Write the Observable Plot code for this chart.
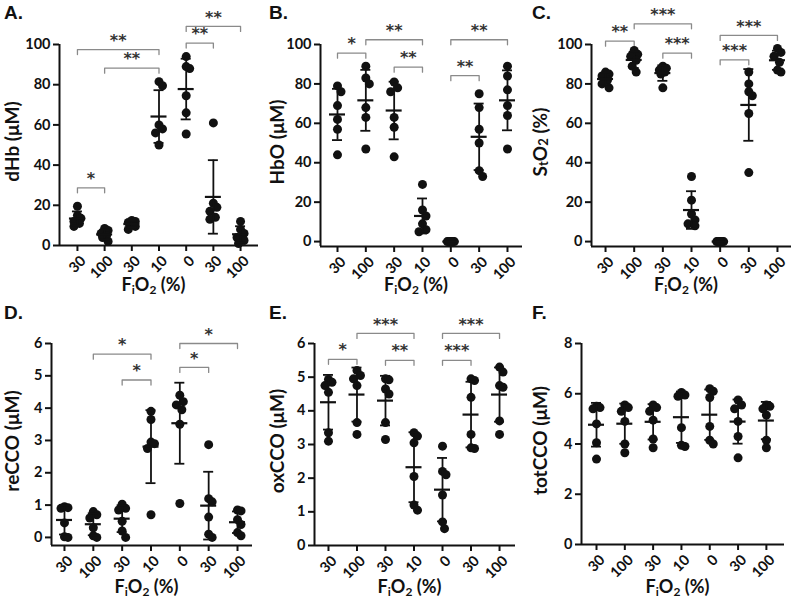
<!DOCTYPE html>
<html><head><meta charset="utf-8">
<script src="https://cdn.jsdelivr.net/npm/d3@7"></script>
<script src="https://cdn.jsdelivr.net/npm/@observablehq/plot@0.6"></script>
<style>
body{margin:0;background:#fff;}
#fig{position:relative;width:793px;height:600px;overflow:hidden;background:#fff;}
.panel{position:absolute;}
.panel g[aria-label^="y-axis"] text, .panel g[aria-label^="x-axis"] text{font-family:Lato,'Open Sans',sans-serif;font-size:14.5px;font-weight:bold;}
</style></head><body><div id="fig"></div>
<script>
// FiO2 groups (tick labels)
const fio2 = ["30","100","30","10","0","30","100"];

// individual animals per group
const dHb = [[19.5,15,13.5,12,11,9.5],[8.5,7.5,6,5,4,2],[12.5,12,11.5,10.5,9.5,8],[81.5,79.5,60,58,56,50],[94,89,88,74.5,66,55.5],[61,21,19,17,14,13],[12,8,6,4,2.5,1]];
const HbO = [[79,76,69,62,57,44],[89,83,80,68,63,47],[81,78,76,63,58,43],[29,16,13,9,6,5],[0,0,0,0,0,0],[75,68,57,50,36,33],[89,84,77,69,64,47]];
const StO2 = [[86,85,84,82,80,78],[97,95,94,92,89,86],[89,88,87,86,85,78],[33,21,14,11,9,8],[0,0,0,0,0,0],[86,80,76,74,65,35],[98,96,94,91,87,86]];
const reCCO = [[0.95,0.92,0.9,0.45,0.02,0],[0.8,0.7,0.6,0.3,0.05,0],[1.03,0.9,0.85,0.5,0.2,0],[3.9,3.65,2.95,2.9,2.75,0.7],[4.4,4.2,4.1,3.95,3.5,1.05],[2.87,1.2,1.1,0.63,0.1,0],[0.85,0.82,0.55,0.4,0.15,0.05]];
const oxCCO = [[4.93,4.85,4.75,4.55,3.35,3.1],[5.2,5.05,4.95,4.75,3.65,3.3],[4.95,4.92,4.65,4.5,3.65,3.15],[3.35,3.25,3.05,2.05,1.2,1.05],[2.95,2.2,2.1,1.5,0.7,0.5],[4.95,4.9,4.4,3.3,2.9,2.88],[5.3,5.15,4.75,4.7,3.7,3.3]];
const totCCO = [[5.5,5.45,5.4,4.8,4.05,3.4],[5.55,5.45,5.3,4.9,4.0,3.65],[5.55,5.45,5.3,4.95,4.2,3.85],[6.05,5.95,5.9,4.65,3.95,3.9],[6.2,6.1,5.85,4.7,4.15,4.0],[5.75,5.55,5.4,4.9,4.3,3.45],[5.55,5.5,5.4,5.15,4.15,3.85]];

// significance brackets: group index from/to, level (data units), label
const sigA = [{from:0,to:1,y:28.7,label:"*"},{from:0,to:3,y:97.5,label:"**"},{from:1,to:3,y:88.2,label:"**"},{from:4,to:5,y:100.7,label:"**"},{from:4,to:6,y:109,label:"**"}];
const sigB = [{from:0,to:1,y:95.6,label:"*"},{from:1,to:3,y:102.4,label:"**"},{from:2,to:3,y:88.5,label:"**"},{from:4,to:5,y:84.2,label:"**"},{from:4,to:6,y:102.4,label:"**"}];
const sigC = [{from:0,to:1,y:101.7,label:"**"},{from:1,to:3,y:110.5,label:"***"},{from:2,to:3,y:95.6,label:"***"},{from:4,to:5,y:92.2,label:"***"},{from:4,to:6,y:104.6,label:"***"}];
const sigD = [{from:1,to:3,y:5.67,label:"*"},{from:2,to:3,y:4.87,label:"*"},{from:4,to:5,y:5.26,label:"*"},{from:4,to:6,y:6.0,label:"*"}];
const sigE = [{from:0,to:1,y:5.53,label:"*"},{from:1,to:3,y:6.3,label:"***"},{from:2,to:3,y:5.5,label:"**"},{from:4,to:5,y:5.5,label:"***"},{from:4,to:6,y:6.3,label:"***"}];
const sigF = [];

// axis ticks
const ticksPct = [0,20,40,60,80,100];
const ticks6 = [0,1,2,3,4,5,6];
const ticks8 = [0,2,4,6,8];

// titles ("_x" = subscript x)
const yTitles = ["dHb (μM)","HbO (μM)","S_tO_2 (%)","reCCO (μM)","oxCCO (μM)","totCCO (μM)"];
const xTitle = "F_iO_2 (%)";
const letters = ["A.","B.","C.","D.","E.","F."];

const FONT = "Lato, 'Open Sans', sans-serif";

const panels = [
  {values:dHb, sig:sigA, yDom:[0,100], ticks:ticksPct, left:0, top:0, ml:59, mr:7, mt:44, mb:55, pl:0.66, pr:0.66},
  {values:HbO, sig:sigB, yDom:[-2.5,100], ticks:ticksPct, left:265, top:0, ml:55, mr:8, mt:44, mb:54, pl:0.6, pr:0.53},
  {values:StO2, sig:sigC, yDom:[-2.5,100], ticks:ticksPct, left:528, top:0, ml:63, mr:2, mt:44, mb:54, pl:0.49, pr:0.49},
  {values:reCCO, sig:sigD, yDom:[-0.25,6], ticks:ticks6, left:0, top:300, ml:51, mr:13, mt:43, mb:55, pl:0.45, pr:0.52},
  {values:oxCCO, sig:sigE, yDom:[0,6], ticks:ticks6, left:265, top:300, ml:49, mr:15, mt:43, mb:55, pl:0.49, pr:0.56},
  {values:totCCO, sig:sigF, yDom:[0,8], ticks:ticks8, left:528, top:300, ml:53, mr:9, mt:43, mb:56, pl:0.53, pr:0.64}
];

function addRich(sel, str, subSize, shift){
  const parts = str.split(/(_.)/).filter(s=>s.length);
  let sub=false;
  parts.forEach(s=>{
    if(s[0]==="_"){
      sel.append("tspan").attr("dy", sub ? 0 : shift).attr("font-size", subSize).text(s[1]);
      sub=true;
    } else {
      sel.append("tspan").attr("dy", sub ? -shift : 0).text(s);
      sub=false;
    }
  });
}

const fig = document.getElementById("fig");
panels.forEach((p,k)=>{
  const W=265,H=300;
  const plotW = W-p.ml-p.mr, plotH = H-p.mt-p.mb;
  const xDom = [-p.pl, fio2.length-1+p.pr];
  const pxX = plotW/(xDom[1]-xDom[0]);
  const pxY = plotH/(p.yDom[1]-p.yDom[0]);
  // spread overlapping dots sideways (scatter dot plot)
  const pts=[];
  p.values.forEach((vals,g)=>{
    const placed=[];
    [...vals].sort((a,b)=>b-a).forEach(v=>{
      const cands=[0,2,-2,3.5,-3.5];
      let best=0,bestD=-1;
      for(const c of cands){
        let md=Infinity;
        for(const q of placed) md=Math.min(md, Math.hypot(c-q.o,(v-q.v)*pxY));
        if(md>=7){best=c;break;}
        if(md>bestD){bestD=md;best=c;}
      }
      placed.push({v,o:best});
      pts.push({x:g+best/pxX, y:v});
    });
  });
  const stats = p.values.map((vals,g)=>({g, mean:d3.mean(vals), sd:d3.deviation(vals)}));
  const mw=8/pxX, cw=5/pxX, drop=5/pxY;
  const br = p.sig.flatMap((b,i)=>[{i,x:b.from,y:b.y-drop},{i,x:b.from,y:b.y},{i,x:b.to,y:b.y},{i,x:b.to,y:b.y-drop}]);
  const ink="#111";
  const svg = Plot.plot({
    width:W, height:H,
    marginLeft:p.ml, marginRight:p.mr, marginTop:p.mt, marginBottom:p.mb,
    style:{fontFamily:FONT, fontWeight:"bold", color:ink, background:"transparent", overflow:"visible"},
    x:{domain:xDom, ticks:d3.range(fio2.length), tickFormat:i=>fio2[i], tickRotate:-45, tickSize:6, tickPadding:3, label:null},
    y:{domain:p.yDom, ticks:p.ticks, tickFormat:d=>String(d), tickSize:6, tickPadding:3, label:null},
    marks:[
      Plot.ruleY([p.yDom[0]], {stroke:ink, strokeWidth:2}),
      Plot.ruleX([xDom[0]], {stroke:ink, strokeWidth:2}),
      Plot.line(br, {x:"x", y:"y", z:"i", stroke:"#8a8a8a", strokeWidth:1.3}),
      Plot.text(p.sig, {x:d=>(d.from+d.to)/2, y:"y", text:"label", dy:-9, fontSize:16, fontWeight:"bold", fill:"#333", fontFamily:"'DejaVu Sans', sans-serif"}),
      Plot.dot(pts, {x:"x", y:"y", r:4.5, fill:ink, stroke:null}),
      Plot.ruleX(stats, {x:"g", y1:d=>d.mean-d.sd, y2:d=>d.mean+d.sd, stroke:ink, strokeWidth:1.8}),
      Plot.ruleY(stats, {x1:d=>d.g-cw, x2:d=>d.g+cw, y:d=>d.mean+d.sd, stroke:ink, strokeWidth:1.8}),
      Plot.ruleY(stats, {x1:d=>d.g-cw, x2:d=>d.g+cw, y:d=>d.mean-d.sd, stroke:ink, strokeWidth:1.8}),
      Plot.ruleY(stats, {x1:d=>d.g-mw, x2:d=>d.g+mw, y:"mean", stroke:ink, strokeWidth:2.2})
    ]
  });
  const s = d3.select(svg);
  s.selectAll('[aria-label^="x-axis"] path, [aria-label^="x-axis"] line, [aria-label^="y-axis"] path, [aria-label^="y-axis"] line').attr("stroke-width",2);
  // nudge the rotated x tick labels so that they sit under their ticks
  s.selectAll('[aria-label^="x-axis"] text').each(function(){
    const t=d3.select(this); t.attr("transform", `translate(6,4) ${t.attr("transform")||""}`);
  });
  // y title
  const cy = p.mt+plotH/2 - 3;
  const yt = s.append("text").attr("transform",`translate(11,${cy}) rotate(-90)`).attr("text-anchor","middle").attr("dominant-baseline","central")
    .attr("font-family",FONT).attr("font-weight","bold").attr("font-size",19).attr("fill",ink);
  addRich(yt, yTitles[k], 13, 4);
  // x title
  const xt = s.append("text").attr("x", p.ml+plotW/2-5).attr("y", k<3?291:293).attr("text-anchor","middle")
    .attr("font-family",FONT).attr("font-weight","bold").attr("font-size",18).attr("fill",ink);
  addRich(xt, xTitle, 12, 3);
  // panel letter
  s.append("text").attr("x",4).attr("y",19).attr("text-anchor","start").attr("font-family","'Liberation Sans', Arial, sans-serif").attr("font-weight","bold").attr("font-size",19).attr("fill",ink).text(letters[k]);
  const div = document.createElement("div");
  div.className="panel"; div.style.left=p.left+"px"; div.style.top=p.top+"px";
  div.appendChild(svg);
  fig.appendChild(div);
});
</script></body></html>
